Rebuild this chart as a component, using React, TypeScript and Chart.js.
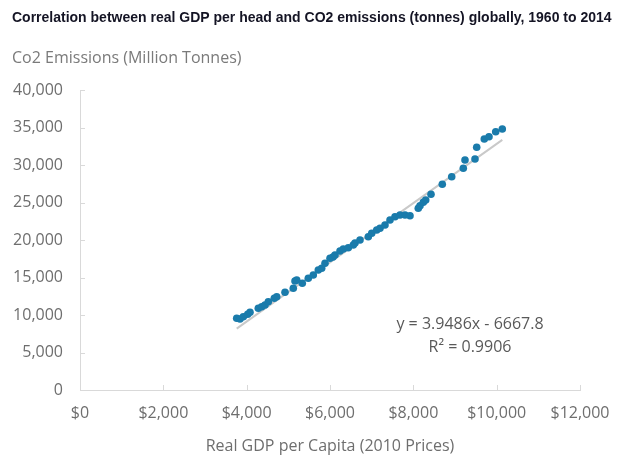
import React, { useEffect, useRef } from "react";
import { Chart, registerables } from "chart.js";

Chart.register(...registerables);

const TITLE = "Correlation between real GDP per head and CO2 emissions (tonnes) globally, 1960 to 2014";
const Y_TITLE = "Co2 Emissions (Million Tonnes)";
const X_TITLE = "Real GDP per Capita (2010 Prices)";
const EQ_LINE1 = "y = 3.9486x - 6667.8";
const EQ_LINE2 = "R² = 0.9906";

// Real GDP per capita (2010 prices)
const gdpPerCapita = [
  3761, 3840, 3919, 4025, 4080, 4279, 4361, 4440, 4519, 4663,
  4721, 4920, 5119, 5160, 5201, 5335, 5479, 5599, 5719, 5801,
  5880, 6000, 6072, 6120, 6240, 6319, 6439, 6559, 6600, 6720,
  6919, 7001, 7121, 7200, 7320, 7440, 7560, 7680, 7800, 7920,
  8119, 8160, 8239, 8297, 8424, 8695, 8921, 9199, 9240, 9480,
  9521, 9703, 9816, 9977, 10135,
];
// CO2 emissions (million tonnes)
const co2Emissions = [
  9560, 9467, 9773, 10093, 10360, 10893, 11107, 11333, 11773, 12227,
  12440, 13027, 13560, 14533, 14667, 14227, 14893, 15333, 16000, 16227,
  16893, 17560, 17733, 18000, 18533, 18800, 18973, 19333, 19600, 20000,
  20440, 20893, 21333, 21560, 22000, 22667, 23107, 23333, 23333, 23240,
  24227, 24573, 25027, 25333, 26093, 27427, 28440, 29560, 30667, 30800,
  32360, 33467, 33773, 34440, 34800,
];
// Linear trendline coefficients (as printed on the chart)
const trendSlope = 3.9486;
const trendIntercept = -6667.8;

const xTicks = [0, 2000, 4000, 6000, 8000, 10000, 12000];
const yTicks = [0, 5000, 10000, 15000, 20000, 25000, 30000, 35000, 40000];

const fmt = (v: number) => v.toLocaleString("en-US");

export default function App() {
  const ref = useRef<HTMLCanvasElement | null>(null);

  useEffect(() => {
    document.body.style.margin = "0";
    const canvas = ref.current;
    if (!canvas) return;

    const scatter = gdpPerCapita.map((x, i) => ({ x, y: co2Emissions[i] }));
    const xMin = Math.min(...gdpPerCapita);
    const xMax = Math.max(...gdpPerCapita);
    const trend = [
      { x: xMin, y: trendSlope * xMin + trendIntercept },
      { x: xMax, y: trendSlope * xMax + trendIntercept },
    ];

    const AXIS = "#d9d9d9";
    const TEXT = "#595959";
    const FONT = "'Open Sans', sans-serif";

    const overlay = {
      id: "overlay",
      afterDraw(chart: any) {
        const ctx = chart.ctx;
        const xs = chart.scales.x;
        const ys = chart.scales.y;
        const area = chart.chartArea;
        ctx.save();
        // inner tick marks
        ctx.strokeStyle = AXIS;
        ctx.lineWidth = 1;
        ctx.beginPath();
        yTicks.forEach((v) => {
          const py = Math.round(ys.getPixelForValue(v)) + 0.5;
          ctx.moveTo(area.left, py);
          ctx.lineTo(area.left + 5, py);
        });
        xTicks.forEach((v) => {
          const px = Math.round(xs.getPixelForValue(v)) + 0.5;
          ctx.moveTo(px, area.bottom);
          ctx.lineTo(px, area.bottom - 5);
        });
        ctx.stroke();

        // title
        ctx.fillStyle = "#141424";
        ctx.font = "bold 14px 'Liberation Sans Narrow', 'Arial Narrow', sans-serif";
        ctx.textAlign = "left";
        ctx.textBaseline = "middle";
        ctx.fillText(TITLE, 12, 18);

        // y title
        ctx.fillStyle = "#7a7a7a";
        ctx.font = `16px ${FONT}`;
        ctx.fillText(Y_TITLE, 12, 58);

        // x title
        ctx.textAlign = "center";
        ctx.fillStyle = "#6e6e6e";
        ctx.fillText(X_TITLE, 330, 446);

        // equation
        ctx.fillStyle = TEXT;
        ctx.font = `16px ${FONT}`;
        ctx.fillText(EQ_LINE1, 470, 324);
        ctx.fillText(EQ_LINE2, 470, 347);
        ctx.restore();
      },
    };

    const chart = new Chart(canvas, {
      type: "scatter",
      data: {
        datasets: [
          {
            type: "line",
            data: trend,
            borderColor: "#c9c9c9",
            borderWidth: 2,
            pointRadius: 0,
            fill: false,
            order: 2,
          } as any,
          {
            data: scatter,
            backgroundColor: "#1a7bab",
            borderColor: "#1a7bab",
            borderWidth: 0,
            pointRadius: 3.8,
            order: 1,
          },
        ],
      },
      options: {
        animation: false,
        responsive: false,
        maintainAspectRatio: false,
        layout: { padding: { top: 90, right: 45, left: 0, bottom: 0 } },
        plugins: {
          legend: { display: false },
          tooltip: { enabled: false },
          title: { display: false },
        },
        scales: {
          x: {
            type: "linear",
            min: 0,
            max: 12000,
            afterBuildTicks: (s: any) => {
              s.ticks = xTicks.map((v) => ({ value: v }));
            },
            afterFit: (s: any) => {
              s.height = 65;
            },
            grid: { display: true, drawOnChartArea: false, drawTicks: false },
            border: { display: true, color: AXIS, width: 1 },
            ticks: {
              padding: 14,
              color: "#6e6e6e",
              font: { family: "'Open Sans', sans-serif", size: 16 },
              callback: (v: any) => "$" + fmt(Number(v)),
              maxRotation: 0,
            },
          },
          y: {
            type: "linear",
            min: 0,
            max: 40000,
            afterBuildTicks: (s: any) => {
              s.ticks = yTicks.map((v) => ({ value: v }));
            },
            afterFit: (s: any) => {
              s.width = 80;
            },
            grid: { display: true, drawOnChartArea: false, drawTicks: false },
            border: { display: true, color: AXIS, width: 1 },
            ticks: {
              padding: 17,
              color: "#6e6e6e",
              font: { family: "'Open Sans', sans-serif", size: 16 },
              callback: (v: any) => fmt(Number(v)),
            },
          },
        },
      },
      plugins: [overlay],
    });

    return () => chart.destroy();
  }, []);

  return (
    <div style={{ position: "absolute", left: 0, top: 0, width: 625, height: 455, background: "#fff" }}>
      <canvas ref={ref} width={625} height={455} style={{ width: 625, height: 455, display: "block" }} />
    </div>
  );
}
